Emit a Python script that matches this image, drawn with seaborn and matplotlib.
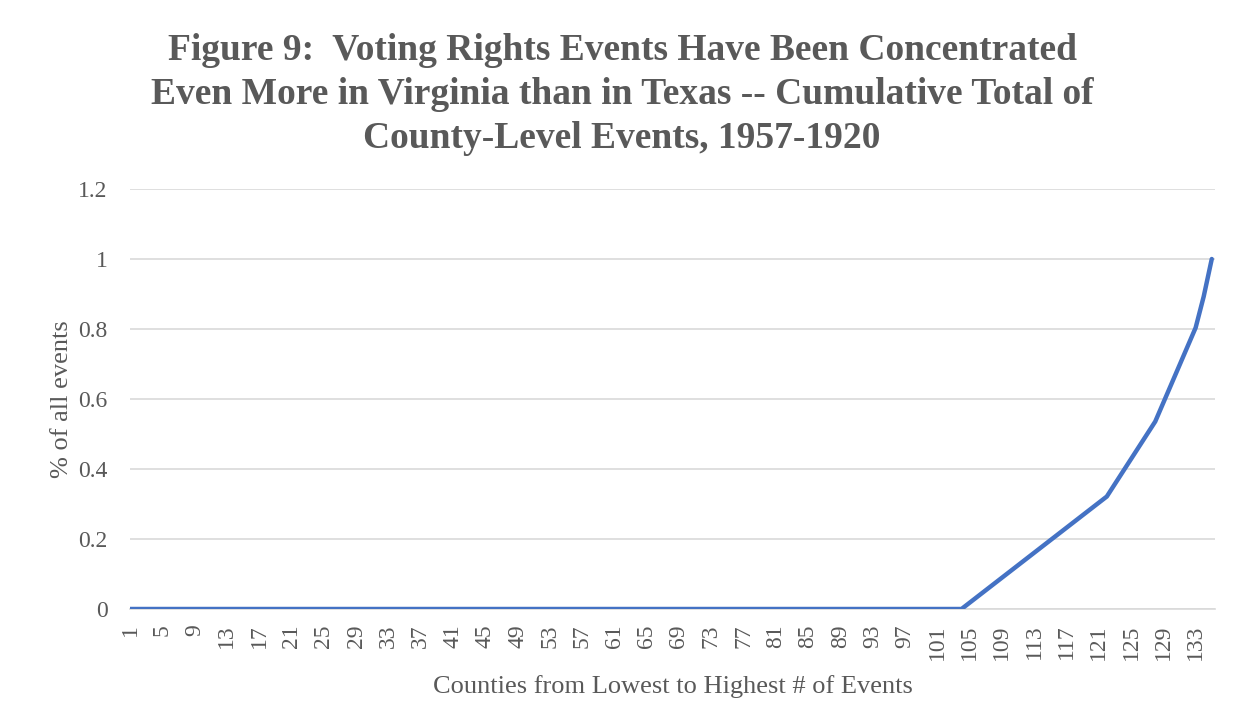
import numpy as np
import pandas as pd
import matplotlib
matplotlib.use("Agg")
import matplotlib.pyplot as plt
import seaborn as sns

# Events per county (sorted lowest to highest), counties 1..135
zero_counties = 104
events_per_county = [0] * zero_counties + [1] * 18 + [2] * 6 + [3] * 5 + [5, 6]
counties = list(range(1, len(events_per_county) + 1))
tick_labels = [str(c) for c in range(1, 136, 4)]

title_lines = ["Figure 9:  Voting Rights Events Have Been Concentrated",
               "Even More in Virginia than in Texas -- Cumulative Total of",
               "County-Level Events, 1957-1920"]
xlabel = "Counties from Lowest to Highest # of Events"
ylabel = "% of all events"

ev = np.array(events_per_county, dtype=float)
share = np.cumsum(ev) / ev.sum()
df = pd.DataFrame({"county": counties, "share": share})

sns.set_theme(style="white")
plt.rcParams['font.family'] = ['Liberation Serif', 'DejaVu Serif']
grey = "#595959"
gridc = "#d9d9d9"

fig = plt.figure(figsize=(12.44, 7.28), dpi=100)
ax = fig.add_axes([130 / 1244, 1 - 609 / 728, (1215 - 130) / 1244, (609 - 189) / 728])

sns.lineplot(data=df, x="county", y="share", ax=ax, color="#4472C4",
             linewidth=3.2, solid_capstyle="round", solid_joinstyle="round", zorder=3)

ax.set_xlim(1, 135.4)
ax.set_ylim(0, 1.2)
ax.set_yticks([0, 0.2, 0.4, 0.6, 0.8, 1.0, 1.2])
ax.set_yticklabels(["0", "0.2", "0.4", "0.6", "0.8", "1", "1.2"])
ax.set_xticks(list(range(1, 136, 4)))
ax.set_xticklabels(tick_labels, rotation=90)
ax.tick_params(axis="both", colors=grey, labelsize=17, length=0)
ax.tick_params(axis="y", pad=16)
ax.tick_params(axis="x", pad=11)
ax.yaxis.grid(True, color=gridc, linewidth=1.2)
ax.xaxis.grid(False)
for s in ["top", "right", "left"]:
    ax.spines[s].set_visible(False)
ax.spines["bottom"].set_color(gridc)
ax.spines["bottom"].set_linewidth(1.2)

ax.set_xlabel(xlabel, color=grey, fontsize=19, labelpad=11)
ax.set_ylabel(ylabel, color=grey, fontsize=19, labelpad=4)

for yc, line in zip([47, 91, 134], title_lines):
    fig.text(0.5, 1 - yc / 728, line, ha="center", va="center_baseline", color=grey,
             fontsize=27, fontweight="bold")

fig.savefig("out.png", dpi=100, facecolor="white")
